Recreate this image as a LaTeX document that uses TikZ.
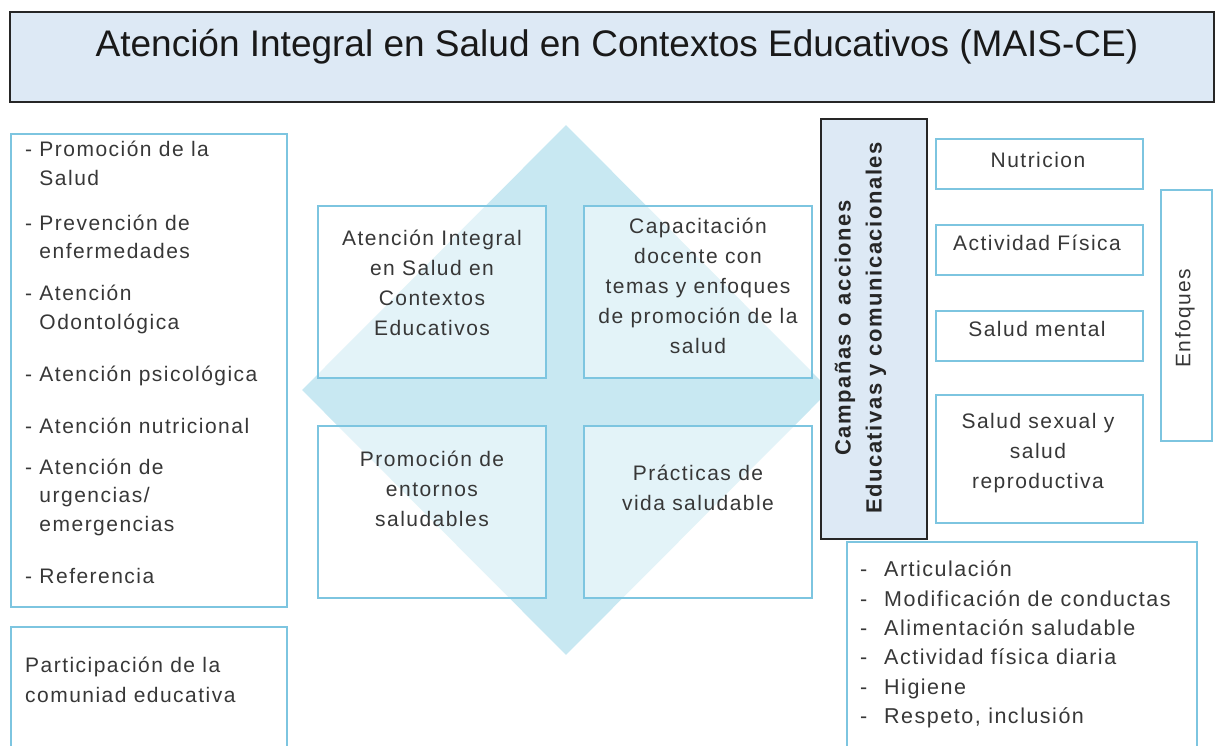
\documentclass[tikz,border=0pt]{standalone}
\usepackage{fontspec}
\setmainfont{Liberation Sans}[LetterSpace=7]
\newfontfamily\titlefont{Liberation Sans}
\usetikzlibrary{shapes.geometric}

\definecolor{boxblue}{RGB}{125,197,224}
\definecolor{rombo}{RGB}{200,232,242}
\definecolor{headblue}{RGB}{221,233,245}
\definecolor{ink}{RGB}{55,55,55}

\begin{document}
\begin{tikzpicture}[x=1pt, y=-1pt,
    bluebox/.style = {draw=boxblue, line width=1.6pt, inner sep=0pt},
    darkbox/.style = {draw=black!85, line width=1.6pt, fill=headblue, inner sep=0pt},
    cell/.style = {bluebox, fill=white, fill opacity=0.5, minimum width=228pt, minimum height=172pt},
    txt/.style = {inner sep=0pt, text=ink, font=\fontsize{21}{30}\selectfont, align=center}]
    \useasboundingbox (0,0) rectangle (1216,746);
    \clip (0,0) rectangle (1216,746);

    % title
    \node[darkbox, minimum width=1204pt, minimum height=90pt] (head) at (612,57) {};
    \node[inner sep=0pt, text=black!90, font=\titlefont\fontsize{37}{40}\selectfont] (headtext) at (617,47)
        {Atención Integral en Salud en Contextos Educativos (MAIS-CE)};

    % left column
    \node[bluebox, minimum width=276pt, minimum height=473pt] (servicios) at (149,370.5) {};
    \foreach \y/\t [count=\i] in {163.5/{- Promoción de la\\\phantom{- }Salud},
        237/{- Prevención de\\\phantom{- }enfermedades},
        309.5/{- Atención\\\phantom{- }Odontológica},
        376/{- Atención psicológica},
        426/{- Atención nutricional},
        497/{- Atención de\\\phantom{- }urgencias/\\\phantom{- }emergencias},
        576/{- Referencia}}
        \node[txt, align=left, anchor=west, font=\fontsize{21}{28.5}\selectfont] (serv\i) at (25,\y) {\t};

    \node[bluebox, minimum width=276pt, minimum height=143pt] (participa) at (149,698.5) {};
    \node[txt, align=left, anchor=west] (participatext) at (25,680) {Participación de la\\comuniad educativa};

    % centre
    \node[diamond, fill=rombo, inner sep=0pt, minimum width=528pt, minimum height=530pt] (centro) at (566,390) {};

    \node[cell] (aisce) at (432,292) {};
    \node[cell] (capacita) at (698,292) {};
    \node[cell] (entornos) at (432,512) {};
    \node[cell] (practicas) at (698,512) {};

    \node[txt] (aiscetext) at (432,283) {Atención Integral\\en Salud en\\Contextos\\Educativos};
    \node[txt] (capacitatext) at (698,286) {Capacitación\\docente con\\temas y enfoques\\de promoción de la\\salud};
    \node[txt] (entornostext) at (432,488.5) {Promoción de\\entornos\\saludables};
    \node[txt] (practicastext) at (698,487.5) {Prácticas de\\vida saludable};

    % right side
    \node[darkbox, minimum width=106pt, minimum height=420pt] (campanas) at (874,329) {};
    \node[txt, rotate=90, font=\bfseries\fontsize{22}{31}\selectfont, text=black!85] (campanastext) at (860.5,328)
        {Campañas o acciones\\Educativas y comunicacionales};

    \node[bluebox, minimum width=207pt, minimum height=50pt] (nutricion) at (1039.5,164) {};
    \node[bluebox, minimum width=207pt, minimum height=50pt] (actividad) at (1039.5,250) {};
    \node[bluebox, minimum width=207pt, minimum height=50pt] (mental) at (1039.5,336) {};
    \node[bluebox, minimum width=207pt, minimum height=128pt] (sexual) at (1039.5,459) {};

    \node[txt] (nutriciontext) at (1038,160) {Nutricion};
    \node[txt] (actividadtext) at (1037,243) {Actividad Física};
    \node[txt] (mentaltext) at (1037,329) {Salud mental};
    \node[txt] (sexualtext) at (1038,453) {Salud sexual y\\salud\\reproductiva};

    \node[bluebox, minimum width=51pt, minimum height=251pt] (enfoques) at (1186.5,315.5) {};
    \node[txt, rotate=90] (enfoquestext) at (1185,318) {Enfoques};

    \node[bluebox, minimum width=350pt, minimum height=228pt] (conductas) at (1022,656) {};
    \node[txt, align=left, anchor=west, font=\fontsize{21.5}{29.4}\selectfont] (conductastext) at (860,644.5)
        {\makebox[24pt][l]{-}Articulación\\
         \makebox[24pt][l]{-}Modificación de conductas\\
         \makebox[24pt][l]{-}Alimentación saludable\\
         \makebox[24pt][l]{-}Actividad física diaria\\
         \makebox[24pt][l]{-}Higiene\\
         \makebox[24pt][l]{-}Respeto, inclusión};

\end{tikzpicture}
\end{document}
